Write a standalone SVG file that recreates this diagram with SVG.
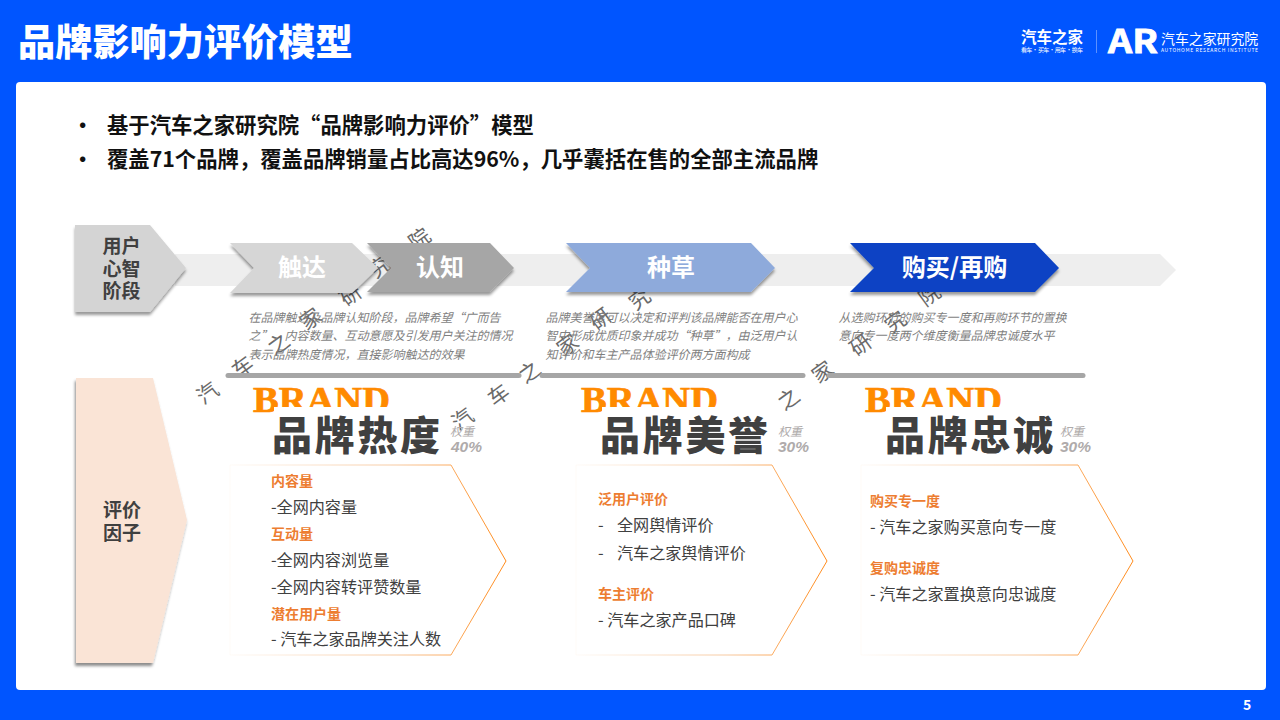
<svg xmlns="http://www.w3.org/2000/svg" width="1280" height="720" viewBox="0 0 1280 720">
<defs>
<style>
text{font-family:"Noto Sans CJK SC","Liberation Sans",sans-serif;}
.ttl{font-size:37.2px;font-weight:900;fill:#fff}
.bul{font-size:21.35px;font-weight:700;fill:#111}
.stage{font-size:19px;font-weight:700;fill:#404040;text-anchor:middle}
.chev{font-size:24px;font-weight:700;fill:#fff;text-anchor:middle}
.desc{font-size:12px;font-style:italic;fill:#7f7f7f}
.brand{font-family:"Liberation Serif",serif;font-size:36px;font-weight:700;fill:#ff8a00;stroke:#ff8a00;stroke-width:.7}
.big{font-size:40px;font-weight:900;fill:#404040;letter-spacing:2.7px}
.wt{font-size:12px;font-style:italic;fill:#afabab}
.pct{font-family:"Liberation Sans",sans-serif;font-size:15.5px;font-weight:700;font-style:italic;fill:#afabab}
.h{font-size:14px;font-weight:700;fill:#ed7d31}
.li{font-size:16.1px;fill:#404040}
.wm{font-size:21px;font-weight:400;fill:#6a6a6a;text-anchor:middle}
.ln{fill:none;stroke:#a6a6a6;stroke-width:5;stroke-linecap:round}
.box{fill:#fff;stroke-width:1}
</style>
<filter id="sh" x="-10%" y="-10%" width="125%" height="130%"><feDropShadow dx="0" dy="3" stdDeviation="1.5" flood-color="#000" flood-opacity=".4"/></filter>
<filter id="shl" x="-10%" y="-5%" width="125%" height="112%"><feDropShadow dx="-1" dy="3" stdDeviation="1.5" flood-color="#000" flood-opacity=".45"/></filter>
<linearGradient id="g1" gradientUnits="userSpaceOnUse" x1="230" y1="0" x2="506" y2="0"><stop offset="0" stop-color="#f7c9a0" stop-opacity=".08"/><stop offset=".6" stop-color="#f7c9a0"/><stop offset="1" stop-color="#ff8a1a"/></linearGradient>
<linearGradient id="g2" gradientUnits="userSpaceOnUse" x1="576" y1="0" x2="827" y2="0"><stop offset="0" stop-color="#f7c9a0" stop-opacity=".08"/><stop offset=".6" stop-color="#f7c9a0"/><stop offset="1" stop-color="#ff8a1a"/></linearGradient>
<linearGradient id="g3" gradientUnits="userSpaceOnUse" x1="861" y1="0" x2="1133" y2="0"><stop offset="0" stop-color="#f7c9a0" stop-opacity=".08"/><stop offset=".6" stop-color="#f7c9a0"/><stop offset="1" stop-color="#ff8a1a"/></linearGradient>
<clipPath id="c1"><rect x="240" y="380" width="170" height="27"/><rect x="250" y="380" width="24" height="34"/></clipPath>
<clipPath id="c2"><rect x="568" y="380" width="170" height="27"/><rect x="578" y="380" width="24" height="34"/></clipPath>
<clipPath id="c3"><rect x="852" y="380" width="170" height="27"/><rect x="862" y="380" width="24" height="34"/></clipPath>
</defs>
<rect width="1280" height="720" fill="#0055ff"/>
<rect x="16" y="82" width="1250" height="608" rx="4" fill="#fff"/>
<g id="title"><text class="ttl" x="18" y="56">品牌影响力评价模型</text></g>
<g id="logo" fill="#fff">
<text x="1021" y="43" font-size="15.5" font-weight="700" fill="#fff">汽车之家</text>
<text x="1021" y="52" font-size="6" fill="#fff" textLength="62">看车 · 买车 · 用车 · 换车</text>
<rect x="1096" y="30" width="1" height="23" fill="#5c90ff"/>
<text x="1108" y="53" font-family="Liberation Sans" font-size="32" font-weight="700" fill="#fff" stroke="#fff" stroke-width=".8" textLength="50" lengthAdjust="spacingAndGlyphs">AR</text>
<text x="1161" y="44" font-size="13.9" fill="#fff">汽车之家研究院</text>
<text x="1161" y="52" font-family="Liberation Sans" font-size="5" fill="#fff" textLength="97">AUTOHOME RESEARCH INSTITUTE</text>
</g>
<g id="bullets">
<text class="bul" x="72" y="133">•</text><text class="bul" x="107" y="133">基于汽车之家研究院“品牌影响力评价”模型</text>
<text class="bul" x="72" y="167">•</text><text class="bul" x="107" y="167">覆盖71个品牌，覆盖品牌销量占比高达96%，几乎囊括在售的全部主流品牌</text>
</g>
<g id="band"><polygon points="175,254 1160,254 1176,270 1160,286 175,286" fill="#eeeeee"/></g>
<g id="watermark">
<text class="wm" transform="translate(212,399) rotate(-36)">汽</text>
<text class="wm" transform="translate(247,373) rotate(-36)">车</text>
<text class="wm" transform="translate(283,350) rotate(-36)">之</text>
<text class="wm" transform="translate(315,325) rotate(-36)">家</text>
<text class="wm" transform="translate(355,301) rotate(-36)">研</text>
<text class="wm" transform="translate(384,273) rotate(-36)">究</text>
<text class="wm" transform="translate(424,245) rotate(-36)">院</text>
<text class="wm" transform="translate(467,425) rotate(-36)">汽</text>
<text class="wm" transform="translate(503,401) rotate(-36)">车</text>
<text class="wm" transform="translate(534,378) rotate(-36)">之</text>
<text class="wm" transform="translate(572,351) rotate(-36)">家</text>
<text class="wm" transform="translate(605,325) rotate(-36)">研</text>
<text class="wm" transform="translate(644,305) rotate(-36)">究</text>
<text class="wm" transform="translate(793,405) rotate(-36)">之</text>
<text class="wm" transform="translate(827,378) rotate(-36)">家</text>
<text class="wm" transform="translate(865,351) rotate(-36)">研</text>
<text class="wm" transform="translate(900,328) rotate(-36)">究</text>
<text class="wm" transform="translate(934,301) rotate(-36)">院</text>
</g>
<g id="stage-user"><polygon points="75,225 150,225 186,268 150,312 75,312" fill="#d4d4d4" filter="url(#sh)"/>
<text class="stage" x="121.500" y="253">用户</text><text class="stage" x="121.500" y="276">心智</text><text class="stage" x="121.500" y="298">阶段</text></g>
<g id="stage-reach"><polygon points="230,243 352,243 378,268 352,293 230,293 254,268" fill="#d6d6d6" filter="url(#sh)"/><text class="chev" x="302" y="276">触达</text></g>
<g id="stage-aware"><polygon points="367,243 490,243 514,268 490,292 367,292 391,268" fill="#a6a6a6" filter="url(#sh)"/><text class="chev" x="440" y="276">认知</text></g>
<g id="stage-grass"><polygon points="566,243 751,243 775,268 751,292 566,292 590,268" fill="#8eaadb" filter="url(#sh)"/><text class="chev" x="671" y="276">种草</text></g>
<g id="stage-buy"><polygon points="850,243 1035,243 1059,268 1035,292 850,292 874,268" fill="#0a43c4" filter="url(#sh)"/><text class="chev" x="954.500" y="276">购买/再购</text></g>
<g id="descriptions">
<text class="desc" x="248.500" y="322">在品牌触达及品牌认知阶段，品牌希望“广而告</text>
<text class="desc" x="248.500" y="340">之”，内容数量、互动意愿及引发用户关注的情况</text>
<text class="desc" x="248.500" y="359">表示品牌热度情况，直接影响触达的效果</text>
<text class="desc" x="545.500" y="322">品牌美誉度可以决定和评判该品牌能否在用户心</text>
<text class="desc" x="545.500" y="340">智中形成优质印象并成功“种草”，由泛用户认</text>
<text class="desc" x="545.500" y="359">知评价和车主产品体验评价两方面构成</text>
<text class="desc" x="838.500" y="322">从选购环节的购买专一度和再购环节的置换</text>
<text class="desc" x="838.500" y="340">意向专一度两个维度衡量品牌忠诚度水平</text>
</g>
<g id="dividers">
<line class="ln" x1="228" y1="375.500" x2="519" y2="375.500"/>
<line class="ln" x1="542" y1="375.500" x2="803" y2="375.500"/>
<line class="ln" x1="829" y1="375.500" x2="1083" y2="375.500"/>
</g>
<g id="factor-label"><polygon points="76,378 153,378 187,520 153,663 76,663" fill="#fae4d6" filter="url(#shl)"/>
<text class="stage" x="122" y="517">评价</text><text class="stage" x="122" y="540">因子</text></g>
<g id="heat">
<text class="brand" x="253" y="412" textLength="137" lengthAdjust="spacingAndGlyphs" clip-path="url(#c1)">BRAND</text>
<text class="big" x="272" y="450">品牌热度</text>
<text class="wt" x="450" y="436">权重</text><text class="pct" x="451" y="452">40%</text>
<polygon points="230,465 451,465 506,561 451,655 230,655" class="box" stroke="url(#g1)"/>
<text class="h" x="271" y="486">内容量</text>
<text class="li" x="271" y="513">-全网内容量</text>
<text class="h" x="271" y="539">互动量</text>
<text class="li" x="271" y="566">-全网内容浏览量</text>
<text class="li" x="271" y="593">-全网内容转评赞数量</text>
<text class="h" x="271" y="619">潜在用户量</text>
<text class="li" x="271" y="645">- 汽车之家品牌关注人数</text>
</g>
<g id="reputation">
<text class="brand" x="581" y="412" textLength="137" lengthAdjust="spacingAndGlyphs" clip-path="url(#c2)">BRAND</text>
<text class="big" x="600" y="450">品牌美誉</text>
<text class="wt" x="778" y="436">权重</text><text class="pct" x="778" y="452">30%</text>
<polygon points="576,465 772,465 827,561 772,655 576,655" class="box" stroke="url(#g2)"/>
<text class="h" x="598" y="504">泛用户评价</text>
<text class="li" x="598" y="531">-</text><text class="li" x="617" y="531">全网舆情评价</text>
<text class="li" x="598" y="559">-</text><text class="li" x="617" y="559">汽车之家舆情评价</text>
<text class="h" x="598" y="599">车主评价</text>
<text class="li" x="598" y="626">- 汽车之家产品口碑</text>
</g>
<g id="loyalty">
<text class="brand" x="865" y="412" textLength="137" lengthAdjust="spacingAndGlyphs" clip-path="url(#c3)">BRAND</text>
<text class="big" x="885" y="450">品牌忠诚</text>
<text class="wt" x="1060" y="436">权重</text><text class="pct" x="1060" y="452">30%</text>
<polygon points="861,465 1078,465 1133,561 1078,655 861,655" class="box" stroke="url(#g3)"/>
<text class="h" x="870" y="506">购买专一度</text>
<text class="li" x="870" y="533">- 汽车之家购买意向专一度</text>
<text class="h" x="870" y="573">复购忠诚度</text>
<text class="li" x="870" y="600">- 汽车之家置换意向忠诚度</text>
</g>
<g id="page"><text x="1243" y="710" font-family="Liberation Sans" font-size="14" font-weight="700" fill="#fff">5</text></g>
</svg>
